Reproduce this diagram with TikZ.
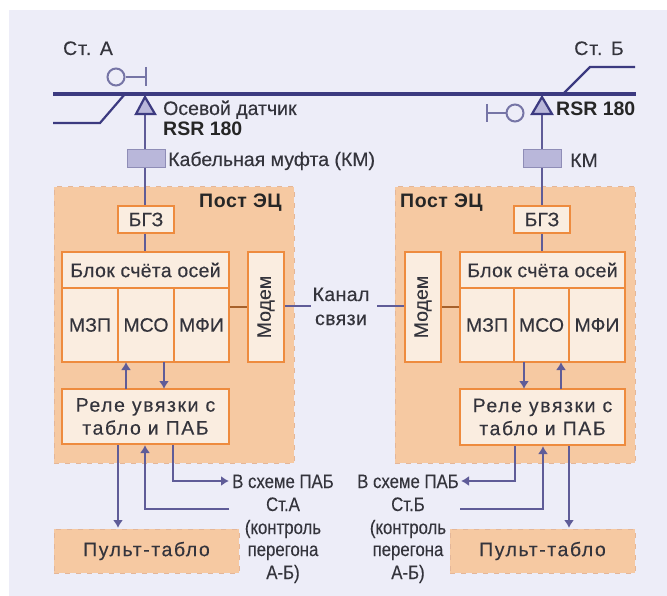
\documentclass[tikz,border=0pt]{standalone}
\usepackage{fontspec}
\setmainfont{Liberation Sans}[UprightFeatures={FakeBold=0.25}]
\definecolor{pagebg}{HTML}{EDEDF8}
\definecolor{postfill}{HTML}{F6C9A2}
\definecolor{postedge}{HTML}{E4B698}
\definecolor{edge}{HTML}{EE8B3E}
\definecolor{cellfill}{HTML}{FAEDE0}
\definecolor{navy}{HTML}{3C3A80}
\definecolor{wire}{HTML}{5F5C98}
\definecolor{muff}{HTML}{B9B7DA}
\definecolor{txt}{HTML}{34343C}
\usetikzlibrary{arrows.meta}
\tikzset{
  postbox/.style={fill=postfill,draw=postedge,dash pattern=on 5pt off 6pt,line width=1pt},
  cell/.style={fill=cellfill,draw=edge,line width=2.4pt},
  wireline/.style={draw=wire,line width=2.4pt},
  thinwire/.style={draw=wire,line width=1.6pt},
  arrowline/.style={draw=wire,line width=2.2pt,-{Latex[length=8pt,width=10pt]}},
  track/.style={draw=navy,line width=3.6pt},
  branch/.style={draw=navy,line width=2.2pt},
  muffbox/.style={fill=muff,draw=wire!70!white,line width=1pt},
  sensor/.style={fill=muff,draw=navy,line width=2.2pt,line join=miter},
  lbl/.style={font=\fontsize{19.5}{19.5}\selectfont,text=txt,inner sep=0pt,anchor=base west},
  clbl/.style={font=\fontsize{19.5}{19.5}\selectfont,text=txt,inner sep=0pt,anchor=base},
  blbl/.style={font=\fontsize{19.5}{19.5}\selectfont\bfseries,text=black!85,inner sep=0pt,anchor=base west},
  sig/.style={draw=navy!70!white,line width=2pt,fill=pagebg},
}
\newcommand{\narrow}[1]{\scalebox{.86}[1]{#1}}
\begin{document}
\begin{tikzpicture}[x=1pt,y=-1pt]
\useasboundingbox (0,0) rectangle (667,596);
\fill[white] (0,0) rectangle (667,596);
\fill[pagebg] (9,10) rectangle (667,596);

% posts
\node[postbox,minimum width=240pt,minimum height=276pt,inner sep=0pt] (postA) at (174,325) {};
\node[postbox,minimum width=240pt,minimum height=276pt,inner sep=0pt] (postB) at (515,325) {};
\node[postbox,minimum width=185pt,minimum height=44pt,inner sep=0pt] (pultA) at (146.5,551) {};
\node[postbox,minimum width=185pt,minimum height=44pt,inner sep=0pt] (pultB) at (542.5,551) {};
\node[clbl,anchor=center] at (pultA.center) {\addfontfeatures{LetterSpace=8}Пульт-табло};
\node[clbl,anchor=center] at (pultB.center) {\addfontfeatures{LetterSpace=8}Пульт-табло};

% track
\coordinate (trL) at (53,94); \coordinate (trR) at (636,94);
\draw[track] (trL) -- (trR);
\coordinate (brA0) at (53,123); \coordinate (brA1) at (100,123); \coordinate (brA2) at (125,94);
\draw[branch] (brA0) -- (brA1) -- (brA2);
\coordinate (brB0) at (563,94); \coordinate (brB1) at (590,67); \coordinate (brB2) at (635,67);
\draw[branch] (brB0) -- (brB1) -- (brB2);

% vertical wires
\coordinate (senA) at (145,112); \coordinate (senB) at (542,112);
\node[cell,minimum width=56pt,minimum height=27pt,inner sep=0pt] (bgzA) at (146,219.5) {};
\node[cell,minimum width=56pt,minimum height=27pt,inner sep=0pt] (bgzB) at (542,219.5) {};
\draw[wireline] (senA) -- (145,205);
\draw[wireline] (senB) -- (542,205);
\draw[wireline] (145,234) -- (145,251);
\draw[wireline] (542,234) -- (542,251);
\node[muffbox,minimum width=38pt,minimum height=18pt,inner sep=0pt] (kmA) at (146,159) {};
\node[muffbox,minimum width=38pt,minimum height=18pt,inner sep=0pt] (kmB) at (542.5,159) {};
\node[clbl,anchor=center] at (bgzA) {БГЗ};
\node[clbl,anchor=center] at (bgzB) {БГЗ};

% sensors
\draw[sensor] (145,97) -- (155,114) -- (136,114) -- cycle;
\draw[sensor] (542,97) -- (552,114) -- (532,114) -- cycle;

% signals
\node[sig,circle,minimum size=17pt,inner sep=0pt] (sigA) at (116,77) {};
\coordinate (barA) at (146,77);
\draw[sig] (sigA) -- (barA) (146,67) -- (146,86);
\node[sig,circle,minimum size=17pt,inner sep=0pt] (sigB) at (515,113) {};
\coordinate (barB) at (487,113);
\draw[sig] (sigB) -- (barB) (487,104) -- (487,122);

% blocks A
\node[cell,minimum width=167pt,minimum height=36pt,inner sep=0pt] (headA) at (145.5,270) {};
\node[cell,minimum width=56pt,minimum height=74pt,inner sep=0pt] (mzpA) at (90,325) {};
\node[cell,minimum width=56pt,minimum height=74pt,inner sep=0pt] (msoA) at (146,325) {};
\node[cell,minimum width=55pt,minimum height=74pt,inner sep=0pt] (mfiA) at (201.5,325) {};
\node[cell,minimum width=36pt,minimum height=110pt,inner sep=0pt] (modA) at (266,307) {};
\node[cell,minimum width=167pt,minimum height=55pt,inner sep=0pt] (releA) at (145.5,416.5) {};
% blocks B
\node[cell,minimum width=165pt,minimum height=36pt,inner sep=0pt] (headB) at (542.5,270) {};
\node[cell,minimum width=54pt,minimum height=74pt,inner sep=0pt] (mzpB) at (487,325) {};
\node[cell,minimum width=55pt,minimum height=74pt,inner sep=0pt] (msoB) at (541.5,325) {};
\node[cell,minimum width=56pt,minimum height=74pt,inner sep=0pt] (mfiB) at (597,325) {};
\node[cell,minimum width=36pt,minimum height=110pt,inner sep=0pt] (modB) at (423,307) {};
\node[cell,minimum width=165pt,minimum height=56pt,inner sep=0pt] (releB) at (542.5,417) {};

\node[clbl,anchor=center] at (headA) {\addfontfeatures{LetterSpace=1.5}Блок счёта осей};
\node[clbl,anchor=center] at (headB) {\addfontfeatures{LetterSpace=1.5}Блок счёта осей};
\node[clbl,anchor=center] at (mzpA) {МЗП};
\node[clbl,anchor=center] at (msoA) {МСО};
\node[clbl,anchor=center] at (mfiA) {МФИ};
\node[clbl,anchor=center] at (mzpB) {МЗП};
\node[clbl,anchor=center] at (msoB) {МСО};
\node[clbl,anchor=center] at (mfiB) {МФИ};
\node[clbl,anchor=center,rotate=90] at (modA) {Модем};
\node[clbl,anchor=center,rotate=90] at (modB) {Модем};
\node[clbl,anchor=center,align=center,font=\fontsize{19.5}{23}\selectfont] at (releA) {\addfontfeatures{LetterSpace=8}Реле увязки с\\\addfontfeatures{LetterSpace=8}табло и ПАБ};
\node[clbl,anchor=center,align=center,font=\fontsize{19.5}{23}\selectfont] at (releB) {\addfontfeatures{LetterSpace=8}Реле увязки с\\\addfontfeatures{LetterSpace=8}табло и ПАБ};

% links
\draw[draw=edge!70!black,line width=1.6pt] (mfiA.east|-modA) -- (modA.west);
\draw[draw=edge!70!black,line width=1.6pt] (mzpB.west|-modB) -- (modB.east);
\coordinate (chA) at (311,306); \coordinate (chB) at (377,306);
\draw[thinwire] (modA.east|-chA) -- (chA);
\draw[thinwire] (chB) -- (modB.west|-chB);

% arrows between relays and blocks
\draw[arrowline] (126,389) -- (126,362);
\draw[arrowline] (164,362) -- (164,389);
\draw[arrowline] (524,362) -- (524,389);
\draw[arrowline] (561,389) -- (561,362);
% lower connections A
\draw[arrowline] (118,445) -- (118,528);
\coordinate (ctlA) at (229,509); \coordinate (pabA) at (229,481);
\draw[arrowline] (ctlA) -- (145,509) -- (145,445);
\draw[arrowline] (173,445) -- (173,481) -- (pabA);
% lower connections B
\draw[arrowline] (569,446) -- (569,528);
\coordinate (ctlB) at (460,509); \coordinate (pabB) at (461,481);
\draw[arrowline] (ctlB) -- (543,509) -- (543,446);
\draw[arrowline] (515,446) -- (515,481) -- (pabB);

% labels
\node[clbl] at (88,55) {\addfontfeatures{LetterSpace=5}Ст. А};
\node[clbl] at (599,55) {\addfontfeatures{LetterSpace=5}Ст. Б};
\node[lbl] at (163,115) {Осевой датчик};
\node[blbl] at (163,136) {RSR 180};
\node[blbl] at (556,116) {RSR 180};
\node[lbl] at (168,166) {Кабельная муфта (КМ)};
\node[lbl] at (570,167) {КМ};
\node[blbl] at (199,208) {\addfontfeatures{LetterSpace=3}Пост ЭЦ};
\node[blbl] at (400,208) {\addfontfeatures{LetterSpace=3}Пост ЭЦ};
\node[clbl] at (341,301) {\addfontfeatures{LetterSpace=2}Канал};
\node[clbl] at (341,325) {\addfontfeatures{LetterSpace=2}связи};

\node[clbl] at (283,488) {\narrow{В схеме ПАБ}};
\node[clbl] at (283,511) {\narrow{Ст.А}};
\node[clbl] at (283,534) {\narrow{(контроль}};
\node[clbl] at (283,556) {\narrow{перегона}};
\node[clbl] at (283,579) {\narrow{А-Б)}};
\node[clbl] at (408,488) {\narrow{В схеме ПАБ}};
\node[clbl] at (408,511) {\narrow{Ст.Б}};
\node[clbl] at (408,534) {\narrow{(контроль}};
\node[clbl] at (408,556) {\narrow{перегона}};
\node[clbl] at (408,579) {\narrow{А-Б)}};
\end{tikzpicture}
\end{document}
